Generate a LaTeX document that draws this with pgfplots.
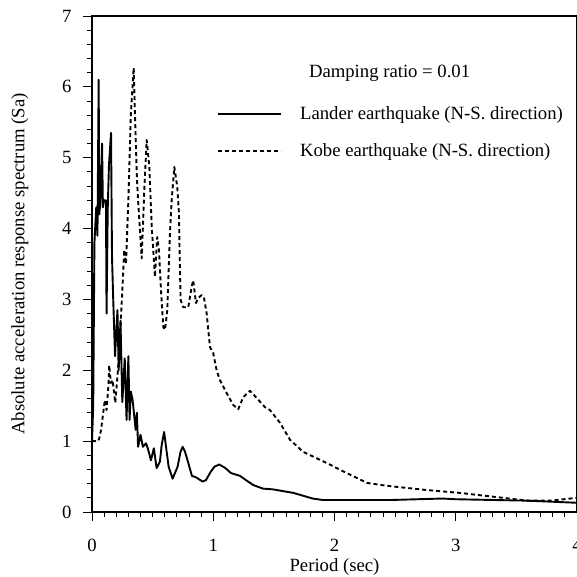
\documentclass[border=0pt]{standalone}
\usepackage{pgfplots}
\pgfplotsset{compat=1.18}
\usepackage{fontspec}
\setmainfont{Liberation Serif}
\newcommand{\bigf}{\fontsize{18.7}{22}\selectfont}
\begin{document}
\begin{tikzpicture}
\begin{axis}[
  name=ax,
  scale only axis,
  width=485pt, height=496pt,
  xmin=0, xmax=4, ymin=0, ymax=7,
  xtick={0,1,2,3,4}, ytick={0,1,2,3,4,5,6,7},
  minor x tick num=9, minor y tick num=4,
  xtick pos=left, ytick pos=left,
  tick align=outside,
  major tick length=9pt, minor tick length=5pt,
  every tick/.style={black, line width=0.8pt},
  axis line style={black, line width=1.2pt},
  /pgf/number format/assume math mode=true,
  tick label style={font=\bigf},
  xticklabel style={yshift=-15pt},
  yticklabel style={xshift=-8pt},
  xlabel={Period (sec)},
  ylabel={Absolute acceleration response spectrum (Sa)},
  every axis x label/.style={at={(rel axis cs:0.5,0)}, anchor=center, yshift=-55pt, font=\bigf},
  every axis y label/.style={at={(rel axis cs:0,0.5)}, xshift=-72pt, rotate=90, anchor=center, font=\bigf},
  legend style={draw=none, fill=none, font=\bigf, at={(axis description cs:0.2577,0.822)}, anchor=north west, row sep=19pt, inner sep=0pt},
  legend cell align=left,
  legend image code/.code={\draw[#1] (0pt,0pt) -- (63pt,0pt); \path[draw=none] (0pt,0pt) -- (80pt,0pt);},
]
\addplot[black, line width=1.9pt, line join=round] coordinates {
(0,1.0) (0.01,1.5) (0.02,3.8) (0.035,4.3) (0.045,3.9) (0.055,6.1) (0.06,4.2) (0.07,4.4)
(0.083,5.2) (0.09,4.3) (0.10,4.4) (0.115,4.4) (0.12,2.8) (0.13,4.3) (0.14,4.9) (0.157,5.35)
(0.165,3.6) (0.175,3.0) (0.19,2.2) (0.21,2.85) (0.22,2.0) (0.235,2.7) (0.25,1.55) (0.27,2.17)
(0.285,1.3) (0.30,2.2) (0.31,1.3) (0.32,1.7) (0.335,1.58) (0.36,1.16) (0.37,1.4) (0.38,0.92)
(0.40,1.09) (0.42,0.92) (0.445,0.97) (0.46,0.90) (0.486,0.73) (0.51,0.90) (0.533,0.62)
(0.56,0.71) (0.575,0.95) (0.595,1.13) (0.612,0.9) (0.632,0.64) (0.665,0.47) (0.706,0.64)
(0.73,0.85) (0.748,0.92) (0.765,0.86) (0.783,0.76) (0.824,0.51) (0.857,0.49) (0.912,0.43)
(0.94,0.45) (0.98,0.57) (1.01,0.64) (1.05,0.67) (1.10,0.62) (1.146,0.55) (1.22,0.51)
(1.27,0.45) (1.33,0.38) (1.41,0.33) (1.49,0.32) (1.66,0.27) (1.82,0.19) (1.90,0.17)
(2.48,0.17) (2.89,0.19) (3.0,0.18) (3.59,0.16) (4.0,0.13)
};
\addlegendentry{Lander earthquake (N-S. direction)}
\addplot[black, line width=1.9pt, dash pattern=on 4pt off 3pt, line join=round] coordinates {
(0,1.0) (0.05,1.0) (0.06,1.04) (0.075,1.16) (0.088,1.34) (0.106,1.58) (0.12,1.44)
(0.137,1.82) (0.142,2.07) (0.156,1.82) (0.170,1.86) (0.192,1.54) (0.212,1.96) (0.225,2.29)
(0.239,2.75) (0.253,3.23) (0.266,3.7) (0.28,3.5) (0.30,4.4) (0.32,5.6) (0.344,6.27)
(0.355,5.57) (0.37,4.73) (0.38,4.4) (0.41,3.58) (0.43,4.5) (0.451,5.25) (0.473,4.87)
(0.486,4.3) (0.495,3.95) (0.50,3.84) (0.519,3.32) (0.538,3.88) (0.552,3.7) (0.569,3.13)
(0.588,2.61) (0.602,2.57) (0.621,2.85) (0.643,3.94) (0.657,4.4) (0.679,4.87) (0.703,4.59)
(0.717,4.22) (0.722,3.7) (0.731,2.99) (0.753,2.89) (0.794,2.89) (0.822,3.18) (0.835,3.27)
(0.857,2.95) (0.876,3.02) (0.904,3.06) (0.923,3.03) (0.945,2.81) (0.973,2.33) (1.0,2.24)
(1.028,2.0) (1.055,1.86) (1.11,1.68) (1.165,1.51) (1.206,1.45) (1.247,1.62) (1.303,1.71)
(1.358,1.61) (1.426,1.48) (1.467,1.44) (1.55,1.26) (1.633,1.02) (1.74,0.85) (1.937,0.69)
(2.1,0.55) (2.27,0.41) (2.43,0.37) (2.76,0.31) (3.03,0.27) (3.39,0.2) (3.59,0.16)
(3.78,0.16) (4.0,0.2)
};
\addlegendentry{Kobe earthquake (N-S. direction)}
\node[font=\bigf, anchor=base west, inner sep=0pt] at (axis description cs:0.447,0.876) {Damping ratio = 0.01};
\end{axis}
\pgfresetboundingbox
\useasboundingbox ([shift={(-92pt,-65pt)}]ax.south west) rectangle ([shift={(-1pt,16pt)}]ax.north east);
\end{tikzpicture}
\end{document}
